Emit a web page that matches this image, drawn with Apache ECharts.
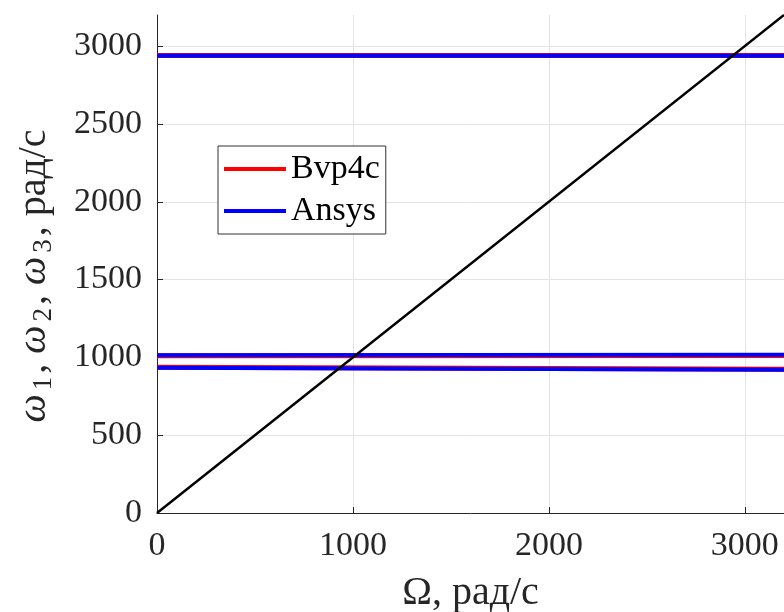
<!DOCTYPE html>
<html>
<head>
<meta charset="utf-8">
<script src="https://cdn.jsdelivr.net/npm/echarts@6/dist/echarts.min.js"></script>
<style>html,body{margin:0;padding:0;background:#fff}#c{width:784px;height:612px}</style>
</head>
<body>
<div id="c"></div>
<script>
// Data
const xEnds = [0, 3200];
const bvp4cTop = [2939, 2939];
const bvp4cMid = [1011, 1012];
const bvp4cLow = [937, 923];
const ansysTop = [2938, 2938];
const ansysMid = [1013, 1017];
const ansysLow = [933, 920];
const diagX = [0, 3200];
const diagY = [0, 3200];

const FONT = '"Liberation Serif", "Times New Roman", serif';
const pair = (xs, ys) => xs.map((x, i) => [x, ys[i]]);

function line(name, data, color, width) {
  return {
    name: name, type: 'line', data: data, showSymbol: false, symbol: 'none',
    lineStyle: { color: color, width: width }, itemStyle: { color: color },
    animation: false, silent: true
  };
}

const chart = echarts.init(document.getElementById('c'));
chart.setOption({
  backgroundColor: '#fff',
  animation: false,
  grid: { left: 157, right: 0, top: 15, bottom: 99, containLabel: false, outerBoundsMode: 'none' },
  legend: {
    orient: 'vertical', left: 218, top: 146,
    data: ['Bvp4c', 'Ansys'],
    icon: 'rect', itemWidth: 62, itemHeight: 4, itemGap: 8,
    padding: [6, 6, 6, 6],
    borderColor: '#333', borderWidth: 1, backgroundColor: '#fff',
    textStyle: { fontFamily: FONT, fontSize: 34, color: '#000', padding: [0, 0, 0, 0] }
  },
  xAxis: {
    type: 'value', min: 0, max: 3200, interval: 1000,
    name: 'Ω, рад/с', nameLocation: 'middle', nameGap: 60,
    nameTextStyle: { fontFamily: FONT, fontSize: 40, color: '#262626' },
    axisLine: { lineStyle: { color: '#262626', width: 1 } },
    axisTick: { inside: true, length: 6, lineStyle: { color: '#262626' } },
    axisLabel: { fontFamily: FONT, fontSize: 34, color: '#262626', margin: 16, showMaxLabel: false,
      formatter: v => String(v) },
    splitLine: { show: true, showMinLine: false, showMaxLine: false, lineStyle: { color: '#e3e3e3', width: 1 } }
  },
  yAxis: {
    type: 'value', min: 0, max: 3200, interval: 500,
    name: '{w|ω}{s|1}{t|, }{w|ω}{s|2}{t|, }{w|ω}{s|3}{t|, рад/с}',
    nameLocation: 'middle', nameGap: 100, nameRotate: 90,
    nameTextStyle: {
      fontFamily: FONT, fontSize: 40, color: '#262626', padding: [0, 24, 0, 0],
      rich: {
        w: { fontFamily: FONT, fontSize: 40, fontStyle: 'italic', color: '#262626', padding: [0, 1, 0, 0] },
        s: { fontFamily: FONT, fontSize: 27, color: '#262626', verticalAlign: 'bottom', padding: [18, 3, 0, 3] },
        t: { fontFamily: FONT, fontSize: 40, color: '#262626' }
      }
    },
    axisLine: { show: true, lineStyle: { color: '#262626', width: 1 } },
    axisTick: { show: true, inside: true, length: 6, lineStyle: { color: '#262626' } },
    axisLabel: { fontFamily: FONT, fontSize: 34, color: '#262626', margin: 15, showMaxLabel: false,
      formatter: v => String(v) },
    splitLine: { show: true, showMinLine: false, showMaxLine: false, lineStyle: { color: '#e3e3e3', width: 1 } }
  },
  series: [
    line('Bvp4c', pair(xEnds, bvp4cTop), '#ff0000', 5),
    line('Bvp4c', pair(xEnds, bvp4cMid), '#ff0000', 5),
    line('Bvp4c', pair(xEnds, bvp4cLow), '#ff0000', 5),
    line('Ansys', pair(xEnds, ansysTop), '#0000ff', 4),
    line('Ansys', pair(xEnds, ansysMid), '#0000ff', 4),
    line('Ansys', pair(xEnds, ansysLow), '#0000ff', 4),
    line('diag', pair(diagX, diagY), '#000000', 2.5)
  ]
});
</script>
</body>
</html>
